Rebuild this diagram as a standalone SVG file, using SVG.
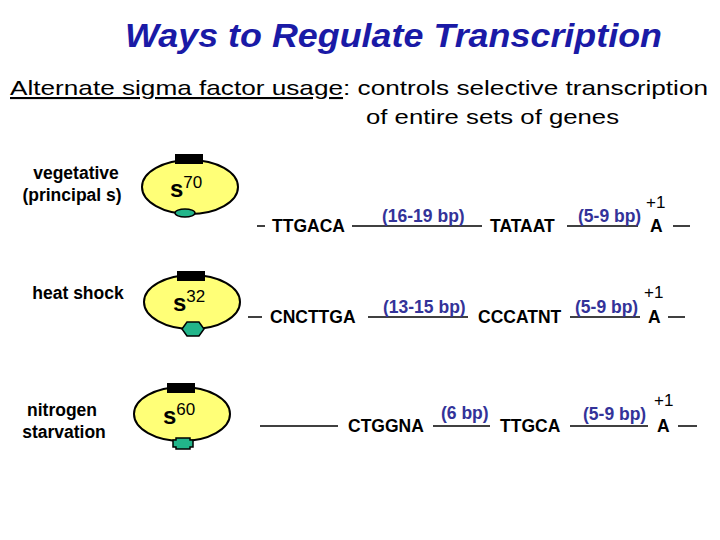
<svg xmlns="http://www.w3.org/2000/svg" width="720" height="540" viewBox="0 0 720 540">
<style>
text{font-family:"Liberation Sans",Arial,sans-serif}
.t{font-size:33px;font-weight:bold;font-style:italic;fill:#1a1aa6}
.h{font-size:21px;fill:#000}
.l{font-size:17.5px;font-weight:bold;fill:#000}
.s{font-size:17.5px;font-weight:bold;fill:#000}
.b{font-size:17.5px;font-weight:bold;fill:#333399}
.p{font-size:17px;fill:#000}
.g{font-size:24px;font-weight:bold;fill:#000}
.e{fill:#ffff77;stroke:#000;stroke-width:2}
.k{fill:#000}
.gr{fill:#22b58a;stroke:#000;stroke-width:1.5}
line{stroke:#000;stroke-width:1.5}
</style>
<rect width="720" height="540" fill="#fff"/>
<text class="t" x="125" y="47" textLength="537" lengthAdjust="spacingAndGlyphs">Ways to Regulate Transcription</text>
<text class="h" x="10" y="95" textLength="698" lengthAdjust="spacingAndGlyphs"><tspan text-decoration="underline">Alternate sigma factor usage</tspan>: controls selective transcription</text>
<text class="h" x="366" y="124" textLength="253" lengthAdjust="spacingAndGlyphs">of entire sets of genes</text>
<text class="l" x="76" y="179" text-anchor="middle">vegetative</text>
<text class="l" x="72" y="201" text-anchor="middle">(principal s)</text>
<text class="l" x="78" y="299" text-anchor="middle">heat shock</text>
<text class="l" x="62" y="416" text-anchor="middle">nitrogen</text>
<text class="l" x="64" y="438" text-anchor="middle">starvation</text>
<g id="sigma70">
<ellipse class="e" cx="190" cy="187" rx="48" ry="27"/>
<rect class="k" x="175" y="154" width="28" height="10"/>
<ellipse class="gr" cx="185" cy="213" rx="10" ry="4"/>
<text class="g" x="170" y="197">s<tspan font-size="17" font-weight="normal" dy="-9">70</tspan></text>
</g>
<g id="sigma32">
<ellipse class="e" cx="192" cy="302" rx="48" ry="27"/>
<rect class="k" x="177" y="271" width="28" height="10"/>
<polygon class="gr" points="182,329 187,322 199,322 204,329 199,336 187,336"/>
<text class="g" x="173" y="311">s<tspan font-size="17" font-weight="normal" dy="-9">32</tspan></text>
</g>
<g id="sigma60">
<ellipse class="e" cx="182" cy="414" rx="48" ry="27"/>
<rect class="k" x="167" y="383" width="28" height="10"/>
<polygon class="gr" points="176,438 190,438 190,440 193,440 193,447 190,447 190,449 176,449 176,447 173,447 173,440 176,440"/>
<text class="g" x="163" y="424">s<tspan font-size="17" font-weight="normal" dy="-9">60</tspan></text>
</g>
<g id="connectors">
<line x1="257" y1="226" x2="265" y2="226"/>
<line x1="352" y1="226" x2="482" y2="226"/>
<line x1="567" y1="226" x2="638" y2="226"/>
<line x1="673" y1="226" x2="690" y2="226"/>
<line x1="248" y1="317" x2="262" y2="317"/>
<line x1="368" y1="317" x2="468" y2="317"/>
<line x1="570" y1="317" x2="640" y2="317"/>
<line x1="668" y1="317" x2="685" y2="317"/>
<line x1="260" y1="426" x2="338" y2="426"/>
<line x1="433" y1="426" x2="490" y2="426"/>
<line x1="570" y1="426" x2="648" y2="426"/>
<line x1="678" y1="426" x2="697" y2="426"/>
</g>
<g id="promoters">
<text class="s" x="272" y="232">TTGACA</text>
<text class="b" x="382" y="222">(16-19 bp)</text>
<text class="s" x="490" y="232">TATAAT</text>
<text class="b" x="578" y="222">(5-9 bp)</text>
<text class="s" x="650" y="232">A</text>
<text class="p" x="646" y="208">+1</text>
<text class="s" x="270" y="323">CNCTTGA</text>
<text class="b" x="383" y="313">(13-15 bp)</text>
<text class="s" x="478" y="323">CCCATNT</text>
<text class="b" x="575" y="313">(5-9 bp)</text>
<text class="s" x="648" y="323">A</text>
<text class="p" x="644" y="298">+1</text>
<text class="s" x="348" y="432">CTGGNA</text>
<text class="b" x="441" y="419">(6 bp)</text>
<text class="s" x="500" y="432">TTGCA</text>
<text class="b" x="583" y="420">(5-9 bp)</text>
<text class="s" x="657" y="432">A</text>
<text class="p" x="654" y="406">+1</text>
</g>
</svg>
